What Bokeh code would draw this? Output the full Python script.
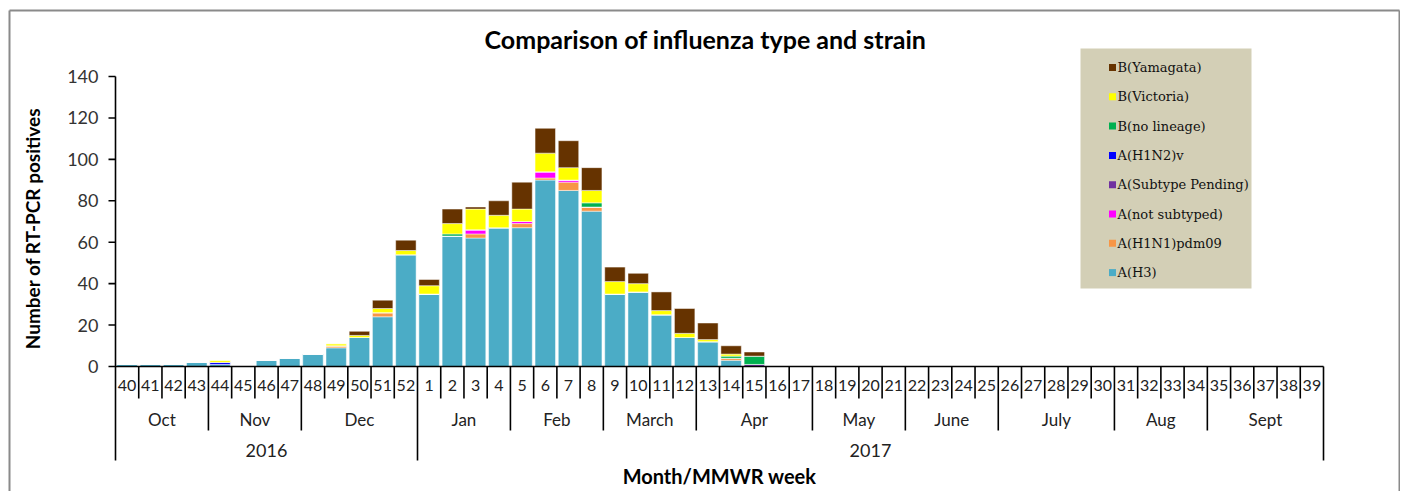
import math
from bokeh.plotting import figure
from bokeh.models import Range1d, ColumnDataSource
from bokeh.embed import file_html
from bokeh.resources import INLINE
from bokeh.core.properties import value

# ---------------- data ----------------
weeks = ["40", "41", "42", "43", "44", "45", "46", "47", "48", "49", "50", "51", "52",
         "1", "2", "3", "4", "5", "6", "7", "8", "9", "10", "11", "12", "13", "14", "15",
         "16", "17", "18", "19", "20", "21", "22", "23", "24", "25", "26", "27", "28", "29",
         "30", "31", "32", "33", "34", "35", "36", "37", "38", "39"]
months = ["Oct", "Nov", "Dec", "Jan", "Feb", "March", "Apr", "May", "June", "July", "Aug", "Sept"]
month_weeks = [4, 4, 5, 4, 4, 4, 5, 4, 4, 5, 4, 5]
years = ["2016", "2017"]
year_weeks = [13, 39]

Z24 = [0] * 24
a_h3 = [1, 1, 1, 2, 1, 0, 3, 4, 6, 9, 14, 24, 54,
        35, 63, 62, 67, 67, 90, 85, 75, 35, 36, 25, 14, 12, 3, 0] + Z24
a_h1n1 = [0, 0, 0, 0, 0, 0, 0, 0, 0, 1, 0, 2, 0,
          0, 0, 2, 0, 2, 1, 4, 2, 0, 0, 0, 0, 0, 1, 0] + Z24
a_not_sub = [0, 0, 0, 0, 0, 0, 0, 0, 0, 0, 0, 0, 0,
             0, 0, 2, 0, 1, 3, 1, 0, 0, 0, 0, 0, 0, 0, 0] + Z24
a_pending = [0, 0, 0, 0, 0, 0, 0, 0, 0, 0, 0, 0, 0,
             0, 0, 0, 0, 0, 0, 0, 0, 0, 0, 0, 0, 0, 0, 1] + Z24
a_h1n2v = [0, 0, 0, 0, 1, 0, 0, 0, 0, 0, 0, 0, 0,
           0, 0, 0, 0, 0, 0, 0, 0, 0, 0, 0, 0, 0, 0, 0] + Z24
b_nolin = [0, 0, 0, 0, 0, 0, 0, 0, 0, 0, 0, 0, 0,
           0, 1, 0, 0, 0, 0, 0, 2, 0, 0, 0, 0, 0, 1, 4] + Z24
b_vic = [0, 0, 0, 0, 1, 0, 0, 0, 0, 1, 1, 2, 2,
         4, 5, 10, 6, 6, 9, 6, 6, 6, 4, 2, 2, 1, 1, 0] + Z24
b_yam = [0, 0, 0, 0, 0, 0, 0, 0, 0, 0, 2, 4, 5,
         3, 7, 1, 7, 13, 12, 13, 11, 7, 5, 9, 12, 8, 4, 2] + Z24

series_names = ["A(H3)", "A(H1N1)pdm09", "A(not subtyped)", "A(Subtype Pending)",
                "A(H1N2)v", "B(no lineage)", "B(Victoria)", "B(Yamagata)"]
series_values = [a_h3, a_h1n1, a_not_sub, a_pending, a_h1n2v, b_nolin, b_vic, b_yam]
series_colors = ["#4bacc6", "#f79646", "#ff00ff", "#7030a0",
                 "#0000ff", "#00b050", "#ffff00", "#663300"]
y_ticks = [0, 20, 40, 60, 80, 100, 120, 140]

# ---------------- layout helpers (picture pixels -> data) ----------------
FIG_W, FIG_H = 1400, 491
W_PX = 1208 / 52.0          # px per week
U_PX = 290 / 140.0          # px per count


def X(px):
    return (px - 115) / W_PX - 0.5


def Y(py):
    return (366 - py) / U_PX


FONT = value("Lato")

p = figure(width=FIG_W, height=FIG_H, output_backend="svg", toolbar_location=None,
           x_range=Range1d(X(0), X(FIG_W)), y_range=Range1d(Y(FIG_H), Y(0)),
           x_axis_type=None, y_axis_type=None, min_border=0)
p.outline_line_color = None
p.xgrid.visible = False
p.ygrid.visible = False
p.background_fill_color = "white"
p.border_fill_color = "white"

# ---------------- bars ----------------
data = {"x": list(range(len(weeks)))}
for n, v in zip(series_names, series_values):
    data[n] = v
src = ColumnDataSource(data)
p.vbar_stack(series_names, x="x", width=0.88, color=series_colors, source=src,
             line_color="white", line_width=0.6, line_alpha=0.8)

# ---------------- axes & category table ----------------
n = len(weeks)
x0, y0, x1, y1 = [], [], [], []
x0.append(-0.5); y0.append(y_ticks[-1]); x1.append(-0.5); y1.append(Y(460))
x0.append(-0.5); y0.append(0); x1.append(n - 0.5); y1.append(0)
for t in y_ticks:
    x0.append(X(108)); y0.append(t); x1.append(-0.5); y1.append(t)
month_bounds = set()
c = 0
for m in month_weeks:
    c += m
    month_bounds.add(c)
year_bounds = set()
c = 0
for yw in year_weeks:
    c += yw
    year_bounds.add(c)
for k in range(1, n + 1):
    if k in year_bounds:
        bottom = Y(460)
    elif k in month_bounds:
        bottom = Y(430)
    else:
        bottom = Y(398)
    x0.append(k - 0.5); y0.append(0); x1.append(k - 0.5); y1.append(bottom)
p.segment(x0=x0, y0=y0, x1=x1, y1=y1, line_color="black", line_width=1.6)

p.text(x=[X(98)] * len(y_ticks), y=y_ticks, text=[str(t) for t in y_ticks],
       text_font=FONT, text_font_size="18px", text_color="#333333",
       text_align="right", text_baseline="middle")

p.text(x=list(range(n)), y=[Y(385)] * n, text=weeks, text_font=FONT,
       text_font_size="16px", text_color="#222222", text_align="center",
       text_baseline="middle")

mx = []
c = 0
for m in month_weeks:
    mx.append(c + m / 2.0 - 0.5)
    c += m
p.text(x=mx, y=[Y(419)] * len(months), text=months, text_font=FONT,
       text_font_size="17px", text_color="#222222", text_align="center",
       text_baseline="middle")

yx = []
c = 0
for yw in year_weeks:
    yx.append(c + yw / 2.0 - 0.5)
    c += yw
p.text(x=yx, y=[Y(450)] * len(years), text=years, text_font=FONT,
       text_font_size="18px", text_color="#222222", text_align="center",
       text_baseline="middle")

p.text(x=[X(705)], y=[Y(38)], text=["Comparison of influenza type and strain"],
       text_font=FONT, text_font_size="25px", text_font_style="bold",
       text_color="black", text_align="center", text_baseline="middle")
p.text(x=[X(719)], y=[Y(475)], text=["Month/MMWR week"],
       text_font=FONT, text_font_size="20px", text_font_style="bold",
       text_color="black", text_align="center", text_baseline="middle")
p.text(x=[X(32)], y=[Y(228)], text=["Number of RT-PCR positives"], angle=math.pi / 2,
       text_font=FONT, text_font_size="19px", text_font_style="bold",
       text_color="black", text_align="center", text_baseline="middle")

# ---------------- legend (manual) ----------------
p.quad(left=[X(1080)], right=[X(1251)], top=[Y(48)], bottom=[Y(288)],
       fill_color="#d3cfb6", line_color=None)
leg_names = list(reversed(series_names))
leg_colors = list(reversed(series_colors))
leg_y = [Y(67 + 29.3 * i) for i in range(len(leg_names))]
p.rect(x=[X(1112)] * len(leg_names), y=leg_y, width=7, height=7,
       width_units="screen", height_units="screen", fill_color=leg_colors,
       line_color=None)
p.text(x=[X(1117)] * len(leg_names), y=leg_y, text=leg_names,
       text_font=value("DejaVu Serif"), text_font_size="13px", text_color="#111111",
       text_align="left", text_baseline="middle")

# ---------------- outer border ----------------
p.segment(x0=[X(9), X(9), X(1399)], y0=[Y(FIG_H), Y(10), Y(10)],
          x1=[X(9), X(1399), X(1399)], y1=[Y(10), Y(10), Y(FIG_H)],
          line_color="#8a8a8a", line_width=2)

open("out.html", "w").write(file_html(p, INLINE))
